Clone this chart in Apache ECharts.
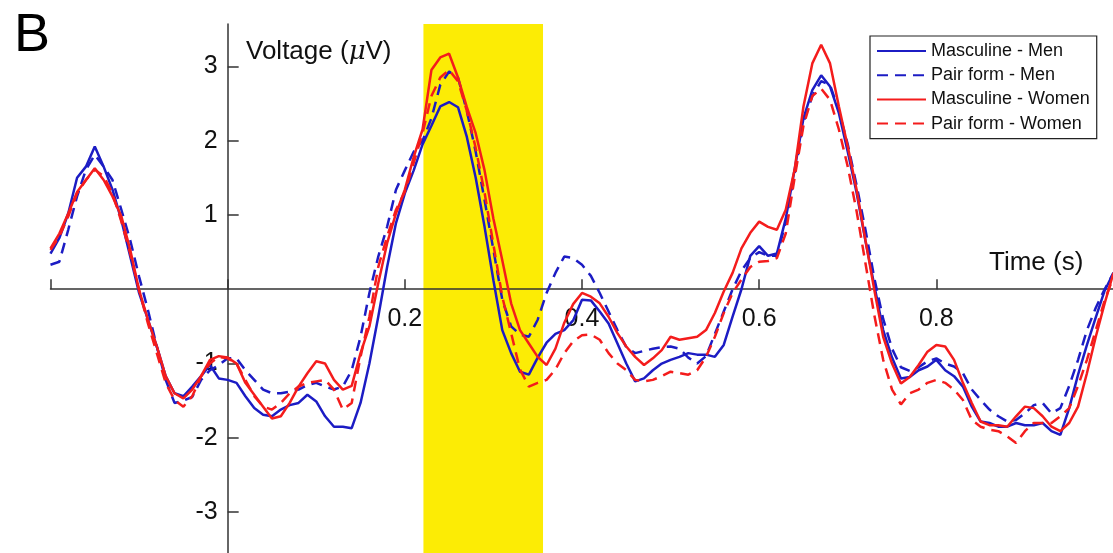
<!DOCTYPE html>
<html>
<head>
<meta charset="utf-8">
<script src="https://cdn.jsdelivr.net/npm/echarts@6/dist/echarts.min.js"></script>
<style>
html,body{margin:0;padding:0;background:#fff;}
#chart{width:1113px;height:553px;}
</style>
</head>
<body>
<div id="chart"></div>
<script>
const times = [
 -0.2,-0.19,-0.18,-0.17,-0.16,-0.15,-0.14,-0.13,-0.12,-0.11,
 -0.1,-0.09,-0.08,-0.07,-0.06,-0.05,-0.04,-0.03,-0.02,-0.01,
 0,0.01,0.02,0.03,0.04,0.05,0.06,0.07,0.08,0.09,
 0.1,0.11,0.12,0.13,0.14,0.15,0.16,0.17,0.18,0.19,
 0.2,0.21,0.22,0.23,0.24,0.25,0.26,0.27,0.28,0.29,
 0.3,0.31,0.32,0.33,0.34,0.35,0.36,0.37,0.38,0.39,
 0.4,0.41,0.42,0.43,0.44,0.45,0.46,0.47,0.48,0.49,
 0.5,0.51,0.52,0.53,0.54,0.55,0.56,0.57,0.58,0.59,
 0.6,0.61,0.62,0.63,0.64,0.65,0.66,0.67,0.68,0.69,
 0.7,0.71,0.72,0.73,0.74,0.75,0.76,0.77,0.78,0.79,
 0.8,0.81,0.82,0.83,0.84,0.85,0.86,0.87,0.88,0.89,
 0.9,0.91,0.92,0.93,0.94,0.95,0.96,0.97,0.98,0.99,
 1.0
];

const masculineMen = [
 0.48,0.69,1.02,1.5,1.65,1.92,1.65,1.34,0.93,0.44,
 -0.05,-0.41,-0.77,-1.17,-1.40,-1.44,-1.31,-1.17,-1.02,-1.2,
 -1.22,-1.26,-1.44,-1.60,-1.69,-1.71,-1.62,-1.56,-1.53,-1.42,
 -1.51,-1.71,-1.85,-1.85,-1.87,-1.53,-1.0,-0.37,0.30,0.89,
 1.29,1.6,1.95,2.2,2.46,2.52,2.45,2.05,1.5,0.84,
 0.12,-0.55,-0.86,-1.11,-1.15,-0.92,-0.72,-0.6,-0.55,-0.42,
 -0.14,-0.15,-0.30,-0.46,-0.73,-1.0,-1.24,-1.2,-1.09,-1.0,
 -0.95,-0.91,-0.86,-0.88,-0.88,-0.91,-0.75,-0.37,0.0,0.45,
 0.58,0.45,0.48,0.95,1.61,2.3,2.68,2.88,2.73,2.37,
 1.85,1.3,0.65,0.05,-0.55,-0.92,-1.2,-1.18,-1.09,-1.04,
 -0.95,-1.09,-1.17,-1.31,-1.58,-1.78,-1.80,-1.85,-1.85,-1.80,
 -1.83,-1.83,-1.80,-1.91,-1.96,-1.6,-1.15,-0.75,-0.38,-0.02,
 0.22
];

const pairFormMen = [
 0.33,0.37,0.8,1.25,1.61,1.81,1.65,1.47,1.07,0.66,
 0.17,-0.28,-0.77,-1.22,-1.53,-1.50,-1.45,-1.22,-1.09,-1.02,
 -0.93,-0.93,-1.09,-1.22,-1.35,-1.40,-1.40,-1.38,-1.35,-1.29,
 -1.26,-1.31,-1.35,-1.31,-1.09,-0.64,-0.05,0.44,0.84,1.34,
 1.6,1.85,2.0,2.3,2.75,2.93,2.85,2.4,1.85,1.2,
 0.53,-0.14,-0.5,-0.61,-0.64,-0.41,-0.05,0.22,0.44,0.42,
 0.33,0.18,-0.05,-0.3,-0.55,-0.78,-0.86,-0.83,-0.8,-0.78,
 -0.77,-0.8,-0.92,-1.0,-0.9,-0.6,-0.3,0.0,0.25,0.42,
 0.5,0.45,0.45,0.9,1.55,2.25,2.6,2.8,2.75,2.4,
 1.95,1.4,0.8,0.15,-0.4,-0.8,-1.05,-1.1,-1.05,-0.97,
 -0.93,-1.0,-1.04,-1.13,-1.35,-1.49,-1.62,-1.71,-1.78,-1.76,
 -1.67,-1.56,-1.53,-1.67,-1.6,-1.3,-0.95,-0.55,-0.25,0.0,
 0.22
];

const masculineWomen = [
 0.55,0.75,1.02,1.31,1.47,1.63,1.47,1.25,0.98,0.53,
 -0.01,-0.41,-0.77,-1.17,-1.40,-1.47,-1.35,-1.17,-0.95,-0.9,
 -0.92,-1.0,-1.26,-1.42,-1.58,-1.74,-1.71,-1.53,-1.31,-1.13,
 -0.97,-1.0,-1.22,-1.35,-1.3,-0.86,-0.5,0.08,0.62,1.02,
 1.34,1.78,2.15,2.95,3.12,3.17,2.85,2.45,2.1,1.6,
 0.95,0.39,-0.19,-0.55,-0.73,-0.91,-1.02,-0.8,-0.45,-0.2,
 -0.05,-0.1,-0.19,-0.37,-0.59,-0.77,-0.91,-1.02,-0.93,-0.82,
 -0.64,-0.68,-0.66,-0.64,-0.55,-0.32,-0.03,0.22,0.55,0.76,
 0.91,0.84,0.8,1.07,1.61,2.46,3.04,3.29,3.04,2.46,
 1.92,1.34,0.66,-0.01,-0.64,-1.0,-1.27,-1.18,-1.02,-0.84,
 -0.75,-0.77,-0.95,-1.26,-1.53,-1.78,-1.83,-1.83,-1.85,-1.71,
 -1.58,-1.60,-1.71,-1.85,-1.91,-1.80,-1.58,-1.13,-0.64,-0.19,
 0.22
];

const pairFormWomen = [
 0.53,0.71,0.98,1.29,1.47,1.61,1.52,1.29,0.91,0.48,
 -0.01,-0.46,-0.86,-1.26,-1.49,-1.58,-1.44,-1.17,-1.0,-0.91,
 -0.93,-1.0,-1.22,-1.44,-1.58,-1.62,-1.53,-1.40,-1.31,-1.26,
 -1.24,-1.22,-1.35,-1.62,-1.53,-0.91,-0.37,0.30,0.71,1.07,
 1.31,1.7,2.1,2.6,2.85,2.95,2.8,2.4,1.9,1.3,
 0.6,-0.1,-0.59,-1.08,-1.31,-1.26,-1.22,-1.08,-0.86,-0.7,
 -0.62,-0.61,-0.68,-0.86,-1.0,-1.09,-1.22,-1.24,-1.22,-1.17,
 -1.11,-1.13,-1.15,-1.09,-0.91,-0.64,-0.32,-0.05,0.13,0.3,
 0.37,0.38,0.42,0.75,1.5,2.2,2.6,2.7,2.55,2.15,
 1.65,1.05,0.35,-0.35,-0.95,-1.35,-1.55,-1.4,-1.35,-1.26,
 -1.22,-1.26,-1.35,-1.49,-1.76,-1.85,-1.89,-1.91,-1.98,-2.07,
 -1.91,-1.80,-1.80,-1.80,-1.71,-1.6,-1.3,-0.95,-0.55,-0.15,
 0.17
];

const seriesNames = ['Masculine - Men','Pair form - Men','Masculine - Women','Pair form - Women'];
const highlightWindow = [0.221, 0.356];
const xTickValues = [-0.2, 0, 0.2, 0.4, 0.6, 0.8, 1.0];
const xLabelValues = [0.2, 0.4, 0.6, 0.8];
const yTickValues = [-3, -2, -1, 1, 2, 3];

const FONT = "'Liberation Sans', Arial, Helvetica, sans-serif";
const BLUE = '#1c1cc4';
const RED = '#f41c1c';

const GRID = { left: 50.5, top: 24, width: 1063, height: 529 };
const Y_MIN = -3.55, Y_MAX = 3.57, X_MIN = -0.2, X_MAX = 1.0;
// offsets that place each axis on the other's zero line
const xAxisOffset = -GRID.height * (0 - Y_MIN) / (Y_MAX - Y_MIN);
const yAxisOffset = -GRID.width * (0 - X_MIN) / (X_MAX - X_MIN);

function pairs(vals){ return times.map((t,i)=>[t, vals[i]]); }

function lineSeries(name, vals, color, dashed){
  return {
    name: name, type: 'line', data: pairs(vals), z: 2,
    symbol: 'none', showSymbol: false, smooth: false, animation: false,
    lineStyle: { color: color, width: 2.5, type: dashed ? [11, 7] : 'solid' },
    itemStyle: { color: color }
  };
}

const chart = echarts.init(document.getElementById('chart'), null, {renderer: 'canvas'});
chart.setOption({
  animation: false,
  backgroundColor: '#ffffff',
  textStyle: { fontFamily: FONT },
  grid: Object.assign({ containLabel: false, outerBoundsMode: 'none' }, GRID),
  xAxis: {
    type: 'value', min: X_MIN, max: X_MAX, interval: 0.2, z: 1,
    position: 'bottom', offset: xAxisOffset,
    axisLine: { onZero: false, lineStyle: { color: '#333', width: 1.5 } },
    axisTick: { show: true, inside: true, length: 10, customValues: xTickValues, lineStyle: { color: '#333', width: 1.5 } },
    axisLabel: {
      show: true, customValues: xLabelValues, margin: 17,
      color: '#111', fontSize: 25, fontFamily: FONT,
      formatter: v => (v > 0.1 && v < 0.9) ? v.toFixed(1) : ''
    },
    splitLine: { show: false }
  },
  yAxis: {
    type: 'value', min: Y_MIN, max: Y_MAX, z: 1,
    position: 'left', offset: yAxisOffset,
    axisLine: { onZero: false, lineStyle: { color: '#333', width: 1.5 } },
    axisTick: { show: true, inside: true, length: 11, customValues: yTickValues, lineStyle: { color: '#333', width: 1.5 } },
    axisLabel: {
      show: true, customValues: yTickValues, margin: 10,
      color: '#111', fontSize: 25, fontFamily: FONT,
      formatter: v => (Math.abs(v) < 1e-9 ? '' : String(Math.round(v)))
    },
    splitLine: { show: false }
  },
  legend: {
    data: seriesNames,
    orient: 'vertical', left: 870, top: 36,
    itemWidth: 49, itemHeight: 18, itemGap: 6.2,
    padding: [6, 7, 6, 6],
    itemStyle: { opacity: 0 },
    backgroundColor: '#ffffff', borderColor: '#222', borderWidth: 1.2, borderRadius: 0,
    textStyle: { fontSize: 18, color: '#111', fontFamily: FONT },
    selectedMode: false
  },
  graphic: [
    { type: 'text', x: 14, y: 36, style: { text: 'B', fontSize: 54, fill: '#000', fontFamily: FONT, verticalAlign: 'middle' } },
    { type: 'text', x: 246, y: 52, style: {
        text: '{n|Voltage (}{i|μ}{n|V)}', verticalAlign: 'middle',
        rich: { n: { fontSize: 26, fill: '#111', fontFamily: FONT }, i: { fontSize: 26, fill: '#111', fontStyle: 'italic', fontFamily: "'DejaVu Serif', serif" } }
      } },
    { type: 'text', x: 989, y: 263, style: { text: 'Time (s)', fontSize: 26, fill: '#111', fontFamily: FONT, verticalAlign: 'middle' } }
  ],
  series: [
    {
      name: 'highlight', type: 'line', data: [], z: 0, silent: true,
      markArea: {
        silent: true,
        itemStyle: { color: '#fcec05', opacity: 1 },
        data: [[{ xAxis: highlightWindow[0] }, { xAxis: highlightWindow[1] }]]
      }
    },
    lineSeries(seriesNames[0], masculineMen, BLUE, false),
    lineSeries(seriesNames[1], pairFormMen, BLUE, true),
    lineSeries(seriesNames[2], masculineWomen, RED, false),
    lineSeries(seriesNames[3], pairFormWomen, RED, true)
  ]
});
</script>
</body>
</html>
